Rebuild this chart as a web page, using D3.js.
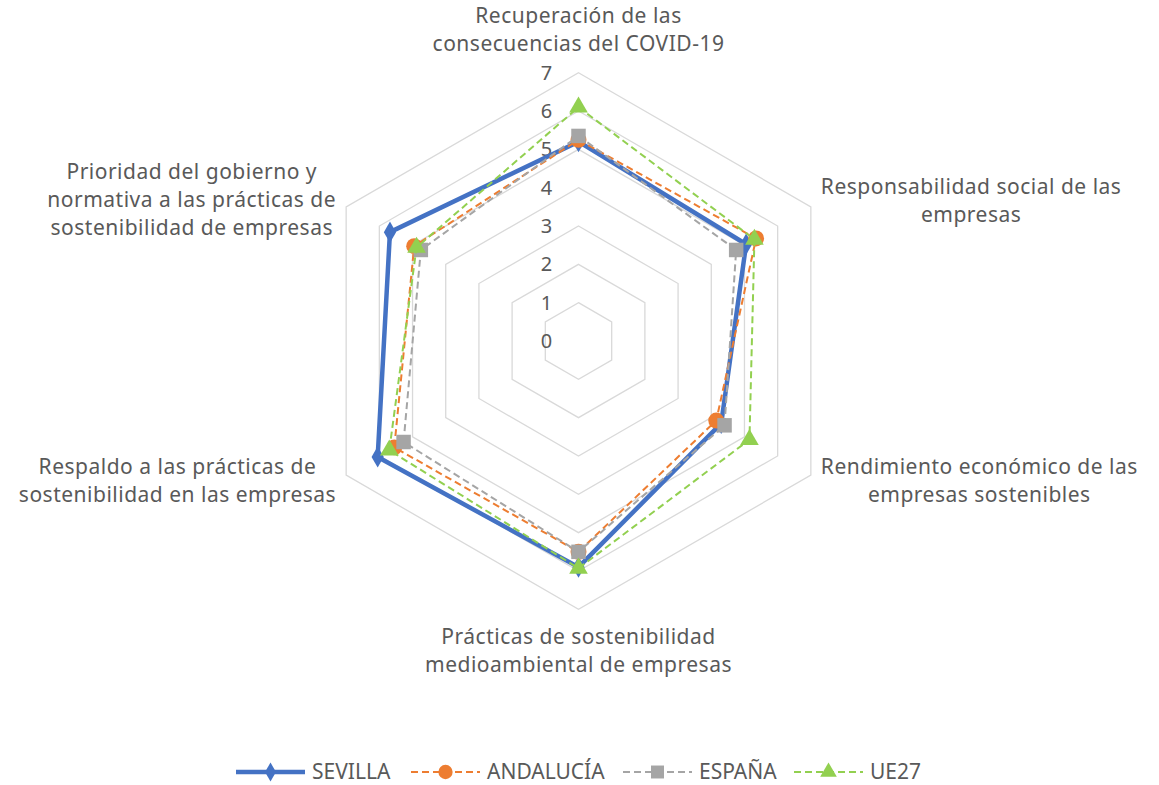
<!DOCTYPE html>
<meta charset="utf-8">
<style>
  body { margin: 0; background: #fff; }
  svg { display: block; }
  text { font-family: "Noto Sans", sans-serif; fill: #595959; }
  .grid polygon { fill: none; stroke: #d9d9d9; stroke-width: 1.3px; }
  .axis-label { font-size: 21px; letter-spacing: 0.5px; }
  .tick-label { font-size: 20px; }
  .legend text { font-size: 21px; }
</style>
<svg width="1159" height="785"></svg>
<script src="https://d3js.org/d3.v7.min.js"></script>
<script>

 // categories (each label split into its lines)
 var categories = [
   ["Recuperación de las", "consecuencias del COVID-19"],
   ["Responsabilidad social de las", "empresas"],
   ["Rendimiento económico de las", "empresas sostenibles"],
   ["Prácticas de sostenibilidad", "medioambiental de empresas"],
   ["Respaldo a las prácticas de", "sostenibilidad en las empresas"],
   ["Prioridad del gobierno y", "normativa a las prácticas de", "sostenibilidad de empresas"]
 ];

 var sevilla   = [5.2, 5.05, 4.3, 5.9, 6.05, 5.68];
 var andalucia = [5.25, 5.35, 4.15, 5.5, 5.55, 4.95];
 var espana    = [5.35, 4.75, 4.4, 5.5, 5.27, 4.75];
 var ue27      = [6.1, 5.3, 5.15, 5.93, 5.7, 4.88];

 var ticks = [0, 1, 2, 3, 4, 5, 6, 7];

 var series = [
   { name: "SEVILLA",   values: sevilla,   color: "#4472c4", width: 4.5, dash: null,  marker: "diamond" },
   { name: "ANDALUCÍA", values: andalucia, color: "#ed7d31", width: 2,   dash: "7,4", marker: "circle" },
   { name: "ESPAÑA",    values: espana,    color: "#a5a5a5", width: 2,   dash: "7,4", marker: "square" },
   { name: "UE27",      values: ue27,      color: "#92d050", width: 2,   dash: "7,4", marker: "triangle" }
 ];

 var svg = d3.select("svg");
 var cx = 578.5, cy = 341;

 var r = d3.scaleLinear().domain([0, 7]).range([0, 268.3]);
 var angle = d3.scaleLinear().domain([0, categories.length]).range([0, 2 * Math.PI]);

 function point(i, v) {
   var a = angle(i);
   return [cx + Math.sin(a) * r(v), cy - Math.cos(a) * r(v)];
 }

 // grid
 var grid = svg.append("g").attr("class", "grid");
 grid.selectAll("polygon")
     .data(ticks.slice(1))
     .enter().append("polygon")
     .attr("points", function(t) {
       return categories.map(function(c, i) { return point(i, t).join(","); }).join(" ");
     });

 // tick labels
 svg.append("g").selectAll("text")
    .data(ticks)
    .enter().append("text")
    .attr("class", "tick-label")
    .attr("x", cx - 32)
    .attr("y", function(t) { return cy - r(t); })
    .attr("dy", "0.35em")
    .attr("text-anchor", "middle")
    .text(function(t) { return t; });

 // category labels
 var lineH = 28;
 var labels = svg.append("g").selectAll("text")
    .data(categories)
    .enter().append("text")
    .attr("class", "axis-label")
    .attr("text-anchor", "middle");

 labels.each(function(lines, i) {
   var t = d3.select(this);
   lines.forEach(function(l) {
     t.append("tspan").text(l);
   });
   var maxW = 0;
   t.selectAll("tspan").each(function() { maxW = Math.max(maxW, this.getComputedTextLength()); });
   var p = point(i, 7);
   var x, yc;
   var n = lines.length;
   if (i === 0) { x = p[0]; yc = p[1] - 29 - (n - 1) * lineH / 2; }
   else if (i === 3) { x = p[0]; yc = p[1] + 27 + (n - 1) * lineH / 2; }
   else if (i === 1) { x = p[0] + 10 + maxW / 2; yc = p[1] - 6; }
   else if (i === 2) { x = p[0] + 10 + maxW / 2; yc = p[1] + 5; }
   else if (i === 4) { x = p[0] - 10 - maxW / 2; yc = p[1] + 5; }
   else { x = p[0] - 10 - maxW / 2; yc = p[1] - 7; }
   t.selectAll("tspan")
    .attr("x", x)
    .attr("y", function(d, k) { return yc + (k - (n - 1) / 2) * lineH; })
    .attr("dy", "0.35em");
 });

 // markers
 var symbolType = {
   diamond: d3.symbolDiamond,
   circle: d3.symbolCircle,
   square: d3.symbolSquare,
   triangle: d3.symbolTriangle
 };
 var symbolSize = { diamond: 130, circle: 200, square: 210, triangle: 150 };

 var line = d3.line().curve(d3.curveLinearClosed);

 var seriesG = svg.append("g").selectAll("g")
    .data(series)
    .enter().append("g");

 seriesG.append("path")
    .attr("d", function(s) {
      return line(s.values.map(function(v, i) { return point(i, v); }));
    })
    .attr("fill", "none")
    .attr("stroke", function(s) { return s.color; })
    .attr("stroke-width", function(s) { return s.width; })
    .attr("stroke-dasharray", function(s) { return s.dash; })
    .attr("stroke-linejoin", "round");

 seriesG.each(function(s) {
   d3.select(this).selectAll("path.mark")
     .data(s.values)
     .enter().append("path")
     .attr("class", "mark")
     .attr("transform", function(v, i) { return "translate(" + point(i, v) + ")"; })
     .attr("d", d3.symbol().type(symbolType[s.marker]).size(symbolSize[s.marker]))
     .attr("fill", s.color);
 });

 // legend
 var legendX = [236, 411, 623, 794];
 var legend = svg.append("g").attr("class", "legend")
    .selectAll("g")
    .data(series)
    .enter().append("g")
    .attr("transform", function(s, i) { return "translate(" + legendX[i] + ",772)"; });

 legend.append("line")
    .attr("x1", 0).attr("x2", 69)
    .attr("stroke", function(s) { return s.color; })
    .attr("stroke-width", function(s) { return s.width; })
    .attr("stroke-dasharray", function(s) { return s.dash; });

 legend.append("path")
    .attr("transform", "translate(34.5,0)")
    .attr("d", function(s) { return d3.symbol().type(symbolType[s.marker]).size(symbolSize[s.marker] * 0.8)(); })
    .attr("fill", function(s) { return s.color; });

 legend.append("text")
    .attr("x", 76)
    .attr("dy", "0.35em")
    .text(function(s) { return s.name; });
</script>
